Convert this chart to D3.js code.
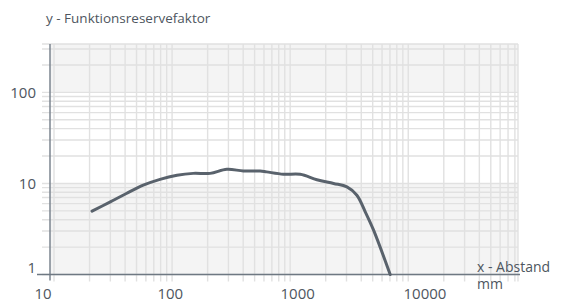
<!DOCTYPE html>
<html>
<head>
<meta charset="utf-8">
<script src="https://cdn.jsdelivr.net/npm/d3@7"></script>
<style>
  body { margin: 0; background: #fff; }
  svg { display: block; font-family: "Open Sans", sans-serif; }
  .grid line { stroke: #e1e1e1; stroke-width: 1.4px; }
  .tick-label { fill: #4e5660; font-size: 15px; }
  .axis-title { fill: #4e5660; font-size: 14px; }
  .title { fill: #4e5660; font-size: 13.5px; }
</style>
</head>
<body>
<svg id="chart" width="568" height="302"></svg>
<script>
// distance in mm (x) vs. functional reserve factor (y)
var distance = [21, 30, 41, 57, 79, 110, 151, 210, 291, 402, 557, 631, 877, 1216, 1684, 2333, 3024, 3672, 4323, 5085, 7030];
var reserve  = [4.96, 6.28, 7.76, 9.57, 11.1, 12.3, 12.9, 12.9, 14.3, 13.7, 13.7, 13.4, 12.6, 12.6, 11.0, 10.0, 9.17, 7.43, 4.88, 3.07, 1.0];

var xTickValues = [10, 100, 1000, 10000];
var yTickValues = [1, 10, 100];
var xDomain = [9.25, 85000];
var yDomain = [1, 340];

var svg = d3.select("#chart");
var plotLeft = 50, plotRight = 518, plotTop = 44, plotBottom = 274.5;

var x = d3.scaleLog().domain(xDomain).range([plotLeft, plotRight]);
var y = d3.scaleLog().domain(yDomain).range([plotBottom, plotTop]);
// the labels of the x axis sit on their own, a bit wider spacing
var xLabel = d3.scaleLog().domain([10, 10000]).range([43, 425]);

// decade bands
var bands = [[1, 10, "#f4f4f4"], [10, 100, "#ffffff"], [100, yDomain[1], "#f4f4f4"]];
svg.append("g").selectAll("rect")
    .data(bands)
    .enter().append("rect")
    .attr("x", plotLeft)
    .attr("width", plotRight - plotLeft)
    .attr("y", function(d) { return y(d[1]); })
    .attr("height", function(d) { return y(d[0]) - y(d[1]); })
    .attr("fill", function(d) { return d[2]; });

function minorTicks(domain) {
    var out = [];
    for (var k = Math.floor(Math.log10(domain[0])); k <= Math.ceil(Math.log10(domain[1])); k++) {
        for (var m = 1; m <= 9; m++) {
            var v = m * Math.pow(10, k);
            if (v >= domain[0] && v <= domain[1]) out.push(v);
        }
    }
    return out;
}

var grid = svg.append("g").attr("class", "grid");

grid.selectAll(".vx")
    .data(minorTicks(xDomain).concat([xDomain[1]]))
    .enter().append("line")
    .attr("x1", function(d) { return x(d); })
    .attr("x2", function(d) { return x(d); })
    .attr("y1", plotTop)
    .attr("y2", plotBottom + 7);

grid.selectAll(".hy")
    .data(minorTicks(yDomain).concat([yDomain[1]]))
    .enter().append("line")
    .attr("x1", plotLeft - 8)
    .attr("x2", plotRight)
    .attr("y1", function(d) { return y(d); })
    .attr("y2", function(d) { return y(d); });

// axes
svg.append("line")
    .attr("x1", plotLeft).attr("x2", plotLeft)
    .attr("y1", plotTop).attr("y2", plotBottom + 6)
    .attr("stroke", "#7b858f").attr("stroke-width", 1.5);

svg.append("line")
    .attr("x1", plotLeft - 13).attr("x2", plotRight + 2)
    .attr("y1", plotBottom).attr("y2", plotBottom)
    .attr("stroke", "#6e7882").attr("stroke-width", 1.5);

svg.selectAll(".xl")
    .data(xTickValues)
    .enter().append("text")
    .attr("class", "tick-label")
    .attr("x", function(d) { return xLabel(d); })
    .attr("y", 299)
    .attr("text-anchor", "middle")
    .text(function(d) { return d; });

svg.selectAll(".yl")
    .data(yTickValues)
    .enter().append("text")
    .attr("class", "tick-label")
    .attr("x", 36)
    .attr("y", function(d) { return y(d) + (d === 1 ? -2 : 5.5); })
    .attr("text-anchor", "end")
    .text(function(d) { return d; });

// titles
svg.append("text")
    .attr("class", "title")
    .attr("x", 46)
    .attr("y", 23)
    .text("y - Funktionsreservefaktor");

svg.append("text")
    .attr("class", "axis-title")
    .attr("x", 477)
    .attr("y", 272)
    .text("x - Abstand");

svg.append("text")
    .attr("class", "axis-title")
    .attr("x", 477)
    .attr("y", 289)
    .text("mm");

// curve
var line = d3.line()
    .x(function(d, i) { return x(distance[i]); })
    .y(function(d, i) { return y(reserve[i]); })
    .curve(d3.curveCatmullRom.alpha(0.5));

svg.append("path")
    .datum(reserve)
    .attr("d", line)
    .attr("fill", "none")
    .attr("stroke", "#59626c")
    .attr("stroke-width", 3)
    .attr("stroke-linecap", "round");
</script>
</body>
</html>
